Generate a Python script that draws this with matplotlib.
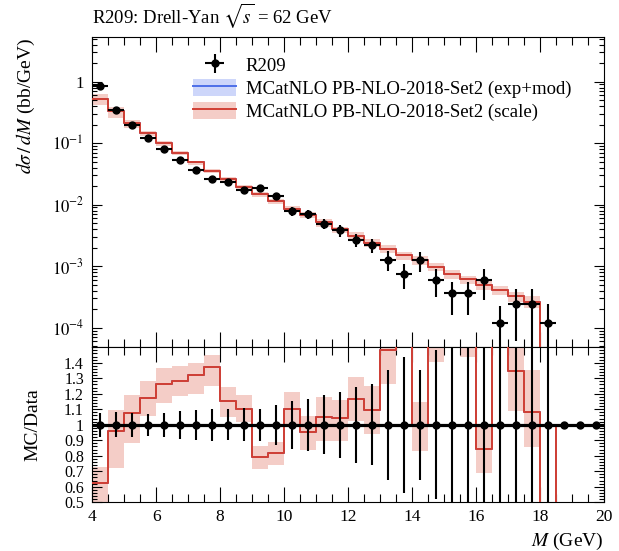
import numpy as np
import matplotlib
matplotlib.use('Agg')
import matplotlib.pyplot as plt
from matplotlib.ticker import MultipleLocator, LogLocator, NullFormatter, FixedLocator
from matplotlib.patches import Patch
from matplotlib.lines import Line2D

plt.rcParams['font.family'] = ['Liberation Serif', 'DejaVu Serif']
plt.rcParams['mathtext.fontset'] = 'stix'

# bin edges 4..20 GeV in 0.5 GeV steps
edges = np.arange(4.0, 20.01, 0.5)
centers = 0.5 * (edges[:-1] + edges[1:])

# R209 data (bb/GeV), zero = empty bin
data = [0.85, 0.35, 0.20, 0.123, 0.079, 0.054, 0.037, 0.026, 0.023, 0.0175,
        0.0187, 0.0137, 0.0078, 0.0071, 0.0049, 0.0038, 0.0027, 0.0022, 0.00128, 0.00075,
        0.00126, 0.0006, 0.00036, 0.00036, 0.00059, 0.00012, 0.00024, 0.00024, 0.00012, 0,
        0, 0]
data_relerr = [0.078, 0.08, 0.077, 0.07, 0.077, 0.09, 0.097, 0.103, 0.1, 0.107,
               0.103, 0.129, 0.155, 0.166, 0.19, 0.213, 0.247, 0.26, 0.353, 0.44,
               0.353, 0.48, 0.55, 0.55, 0.52, 0.9, 0.75, 0.8, 1.0, 0,
               0, 0]

# MCatNLO PB-NLO-2018-Set2
mc = [0.530, 0.337, 0.215, 0.144, 0.0999, 0.0694, 0.0488, 0.0357, 0.0266, 0.0193,
      0.0148, 0.01125, 0.00859, 0.00677, 0.00516, 0.00396, 0.00315, 0.00241, 0.00190, 0.0015,
      0.00126, 0.00098, 0.00074, 0.00061, 0.000497, 0.00041, 0.000323, 0.00026, 0, 0,
      0, 0]
# scale band, relative up / down
mc_up = [0.17, 0.14, 0.11, 0.094, 0.08, 0.073, 0.062, 0.057, 0.073, 0.08,
         0.09, 0.08, 0.10, 0.11, 0.12, 0.11, 0.12, 0.14, 0.15, 0.15,
         0.15, 0.15, 0.15, 0.15, 0.18, 0.18, 0.19, 0.25, 0, 0,
         0, 0]
mc_dn = [0.20, 0.25, 0.18, 0.10, 0.10, 0.075, 0.09, 0.09, 0.09, 0.075,
         0.10, 0.10, 0.093, 0.12, 0.15, 0.14, 0.12, 0.14, 0.15, 0.15,
         0.17, 0.14, 0.15, 0.15, 0.18, 0.18, 0.19, 0.21, 0, 0,
         0, 0]

data = np.array(data)
data_relerr = np.array(data_relerr)
mc = np.array(mc)
mc_hi = mc * (1 + np.array(mc_up))
mc_lo = mc * (1 - np.array(mc_dn))

red = '#d23f33'
redband = '#f4cdc7'
blue = '#4d6fe8'
blueband = '#cdd6fa'


def ext(v):
    return np.append(v, v[-1])


fig = plt.figure(figsize=(6.19, 5.51), dpi=100)
ax = fig.add_axes([0.149, 0.3697, 0.8267, 0.5626])
rax = fig.add_axes([0.149, 0.0884, 0.8267, 0.2813], sharex=ax)

# ---------------- main panel ----------------
ax.set_yscale('log')
ax.fill_between(edges, ext(mc_lo), ext(mc_hi), step='post', color=redband, lw=0, zorder=1)
ax.step(edges, ext(mc), where='post', color=blue, lw=1.4, zorder=2)
ax.step(edges, ext(mc), where='post', color=red, lw=1.4, zorder=3)

ok = data > 0
ax.errorbar(centers[ok], data[ok], xerr=0.25, yerr=data[ok] * data_relerr[ok],
            fmt='o', color='black', ms=5, elinewidth=1.5, capsize=0, zorder=5)

ax.set_xlim(4, 20)
ax.set_ylim(4.8e-5, 5.25)
ax.yaxis.set_minor_locator(LogLocator(base=10, subs=np.arange(2, 10), numticks=20))
ax.yaxis.set_minor_formatter(NullFormatter())
ax.set_yticks([1e-4, 1e-3, 1e-2, 1e-1, 1])
ax.set_yticklabels([r'$10^{-4}$', r'$10^{-3}$', r'$10^{-2}$', r'$10^{-1}$', '1'])
ax.xaxis.set_major_locator(MultipleLocator(2))
ax.xaxis.set_minor_locator(MultipleLocator(0.5))

for a in (ax, rax):
    a.tick_params(which='both', direction='in', top=True, right=True, labelsize=12, width=0.8)
    a.tick_params(axis='x', which='major', length=11)
    a.tick_params(axis='x', which='minor', length=5.5)
    a.tick_params(axis='y', which='major', length=7, pad=6)
    a.tick_params(axis='y', which='minor', length=3.5)
    for s in a.spines.values():
        s.set_linewidth(0.8)
ax.tick_params(axis='x', labelbottom=False)

ax.set_title(r'R209: Drell-Yan $\sqrt{s}$ = 62 GeV', loc='left', fontsize=13.5, pad=10)
ax.set_ylabel(r'$d\sigma\,/\,dM$ (bb/GeV)', fontsize=14, loc='top')
ax.yaxis.set_label_coords(-0.108, 1.0)

h_data = ax.errorbar([], [], xerr=[], yerr=[], fmt='o', color='black', ms=5,
                     elinewidth=1.5, capsize=0)
h_blue = (Patch(color=blueband, lw=0), Line2D([], [], color=blue, lw=1.4))
h_red = (Patch(color=redband, lw=0), Line2D([], [], color=red, lw=1.4))
ax.legend([h_data, h_blue, h_red],
          ['R209', 'MCatNLO PB-NLO-2018-Set2 (exp+mod)', 'MCatNLO PB-NLO-2018-Set2 (scale)'],
          loc='upper left', bbox_to_anchor=(0.19, 0.952), frameon=False, fontsize=13.5,
          handlelength=2.3, handleheight=1.0, handletextpad=0.5, labelspacing=0.22,
          borderaxespad=0, borderpad=0.2)

# ---------------- ratio panel ----------------
ratio = np.where(data > 0, mc / np.where(data > 0, data, 1), 1.0)
ratio_lo = np.where(data > 0, mc_lo / np.where(data > 0, data, 1), 1.0)
ratio_hi = np.where(data > 0, mc_hi / np.where(data > 0, data, 1), 1.0)

rax.fill_between(edges, ext(ratio_lo), ext(ratio_hi), step='post', color=redband, lw=0, zorder=1)
rax.step(edges, ext(ratio), where='post', color=blue, lw=1.4, zorder=2)
rax.step(edges, ext(ratio), where='post', color=red, lw=1.4, zorder=3)
rax.axhline(1.0, color='black', lw=2.3, zorder=4)
rax.errorbar(centers, np.ones_like(centers), yerr=data_relerr, fmt='o', color='black',
             ms=5, elinewidth=1.5, capsize=0, zorder=5)

rax.set_ylim(0.5, 1.5)
rax.yaxis.set_major_locator(FixedLocator([0.5, 0.6, 0.7, 0.8, 0.9, 1.0, 1.1, 1.2, 1.3, 1.4]))
rax.set_yticklabels(['0.5', '0.6', '0.7', '0.8', '0.9', '1', '1.1', '1.2', '1.3', '1.4'])
rax.yaxis.set_minor_locator(MultipleLocator(0.02))
rax.tick_params(axis='y', labelsize=11.5)
rax.set_xticks([4, 6, 8, 10, 12, 14, 16, 18, 20])
rax.set_xticklabels(['4', '6', '8', '10', '12', '14', '16', '18', '20'])
rax.set_ylabel('MC/Data', fontsize=14)
rax.yaxis.set_label_coords(-0.1, 0.5)
rax.set_xlabel(r'$M$ (GeV)', fontsize=14, loc='right')
rax.tick_params(axis='x', labelsize=12.5, pad=5)

fig.savefig('out.png', dpi=100)
